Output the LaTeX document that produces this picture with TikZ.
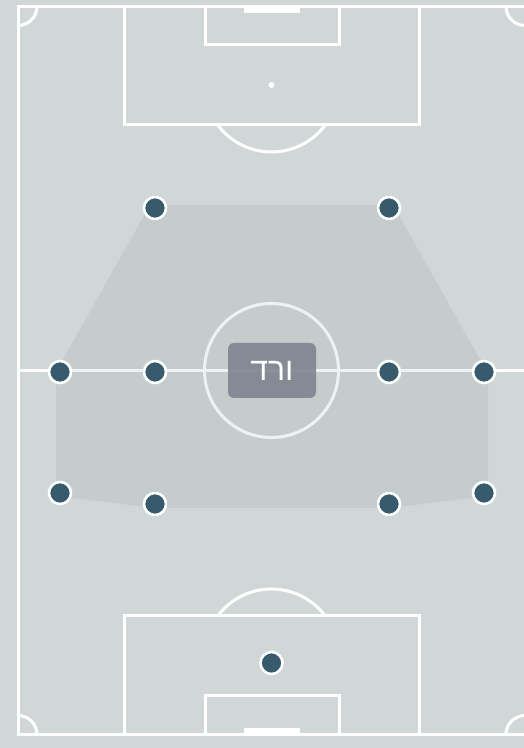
\documentclass[tikz,border=0pt]{standalone}
\usepackage{fontspec}
\newfontfamily\hebfont[Script=Hebrew]{Liberation Sans}
\TeXXeTstate=1
\definecolor{bgc}{HTML}{D1D7D6}
\definecolor{dotc}{HTML}{375B6D}
\definecolor{boxc}{HTML}{7C838D}
\definecolor{shadec}{HTML}{3A5A60}
\tikzset{
  pline/.style={draw=white, line width=3pt},
  player/.style={circle, fill=dotc, draw=white, line width=2.6pt, minimum size=22pt, inner sep=0pt},
  labelbox/.style={rounded corners=6pt, fill=boxc, fill opacity=0.88, text opacity=1, text=white, minimum width=88pt, minimum height=55pt, inner sep=0pt, font=\hebfont\fontsize{32}{36}\selectfont}
}
\begin{document}
\begin{tikzpicture}[x=1pt,y=1pt]
\useasboundingbox (0,0) rectangle (524,748);
\fill[bgc] (0,0) rectangle (524,748);
\clip (0,0) rectangle (524,748);
% pitch
\draw[pline] (18,13.5) rectangle (525,741.5);
\draw[pline] (18,377.5) -- (525,377.5);
\draw[pline] (271.5,377.5) circle[radius=67];
\fill[white] (271.5,377.5) circle[radius=3];
% corners
\draw[pline] (37,741.5) arc[start angle=0,end angle=-90,radius=19];
\draw[pline] (506,741.5) arc[start angle=180,end angle=270,radius=19];
\draw[pline] (37,13.5) arc[start angle=0,end angle=90,radius=19];
\draw[pline] (506,13.5) arc[start angle=180,end angle=90,radius=19];
% top end
\draw[pline] (124,741.5) -- (124,623) -- (419,623) -- (419,741.5);
\draw[pline] (205,741.5) -- (205,703) -- (339,703) -- (339,741.5);
\fill[white] (244,735) rectangle (300,741.5);
\fill[white] (271.5,663) circle[radius=3];
\draw[pline] (271.5,663) ++(216.7:67) arc[start angle=216.7,end angle=323.3,radius=67];
% bottom end
\draw[pline] (124,13.5) -- (124,132) -- (419,132) -- (419,13.5);
\draw[pline] (205,13.5) -- (205,52) -- (339,52) -- (339,13.5);
\fill[white] (244,13.5) rectangle (300,20);
\fill[white] (271.5,92) circle[radius=3];
\draw[pline] (271.5,92) ++(36.7:67) arc[start angle=36.7,end angle=143.3,radius=67];
% shaded zone
\fill[shadec, opacity=0.08] (150,543) -- (393,543) -- (486,378) -- (488,378) -- (488,252) -- (389,240) -- (155,240) -- (56,252) -- (56,378) -- (57,378) -- cycle;
% label
\node[labelbox] (lbl) at (272,377.5) {\beginR ורד\endR};
% players
\node[player] (f1) at (155,540) {};
\node[player] (f2) at (389,540) {};
\node[player] (m1) at (60,376) {};
\node[player] (m2) at (155,376) {};
\node[player] (m3) at (389,376) {};
\node[player] (m4) at (484,376) {};
\node[player] (d1) at (60,255) {};
\node[player] (d2) at (155,244) {};
\node[player] (d3) at (389,244) {};
\node[player] (d4) at (484,255) {};
\node[player] (gk) at (271.5,85) {};
\end{tikzpicture}
\end{document}
